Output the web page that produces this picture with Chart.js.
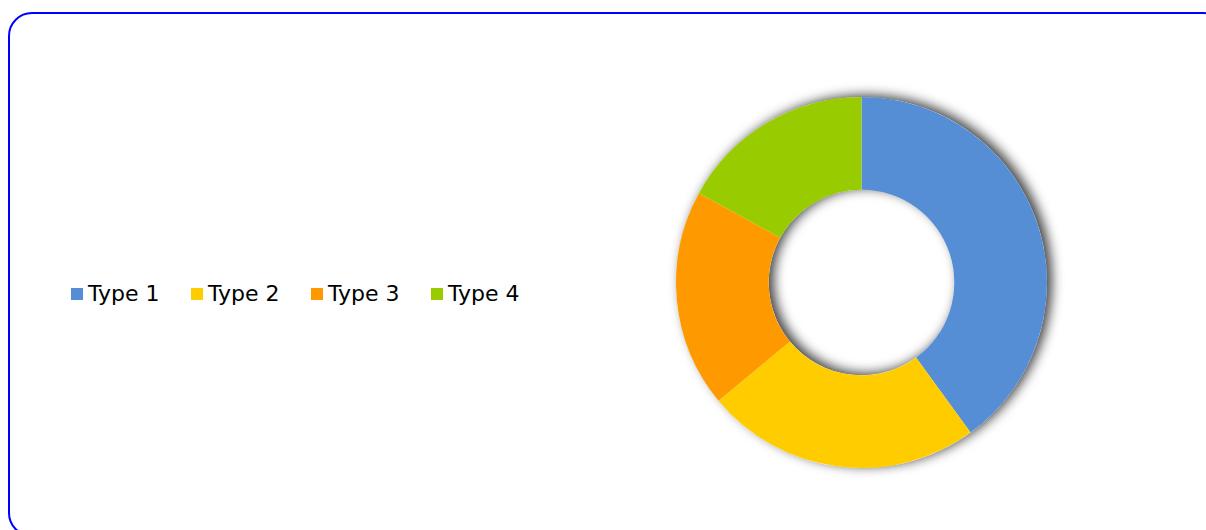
<!DOCTYPE html>
<html>
<head>
<meta charset="utf-8">
<script src="https://cdn.jsdelivr.net/npm/chart.js@4/dist/chart.umd.min.js"></script>
<style>
    html, body { margin: 0; padding: 0; background: #fff; width: 1206px; height: 530px; overflow: hidden; }
    .frame {
        position: absolute; left: 8px; top: 12px; width: 1220px; height: 525px;
        border: 2px solid #0000ff; border-radius: 24px; box-sizing: border-box;
    }
    .chart-box { position: absolute; left: 656px; top: 77px; width: 411px; height: 411px; }
    #legend {
        position: absolute; left: 71px; top: 281px; display: flex;
        font-family: "DejaVu Sans", Verdana, sans-serif; font-size: 22px; color: #000;
    }
    #legend .item { display: flex; align-items: center; width: 120px; }
    #legend .box { width: 12px; height: 12px; margin-right: 5px; }
</style>
</head>
<body>
<div class="frame"></div>
<div id="legend"></div>
<div class="chart-box"><canvas id="chart"></canvas></div>
<script>
const labels = ["Type 1", "Type 2", "Type 3", "Type 4"];
const values = [40, 24, 19, 17];
const colors = ["#558ED5", "#FFCC00", "#FF9900", "#99CC00"];

// 도넛 전체에 그림자 (조각 사이에는 그림자 없음)
const ringShadow = {
    id: "ringShadow",
    beforeDatasetDraw(chart, args) {
        const arc = chart.getDatasetMeta(args.index).data[0];
        if (!arc) return;
        const ctx = chart.ctx;
        ctx.save();
        ctx.shadowColor = "rgba(0, 0, 0, 0.75)";
        ctx.shadowBlur = 12;
        ctx.shadowOffsetX = 5;
        ctx.shadowOffsetY = -2;
        ctx.fillStyle = "#fff";
        ctx.beginPath();
        ctx.arc(arc.x, arc.y, arc.outerRadius, 0, Math.PI * 2);
        ctx.arc(arc.x, arc.y, arc.innerRadius, Math.PI * 2, 0, true);
        ctx.fill("evenodd");
        ctx.restore();
    }
};

const chart = new Chart(document.getElementById("chart"), {
    type: "doughnut",
    data: {
        labels: labels,
        datasets: [{
            data: values,
            backgroundColor: colors,
            borderWidth: 0
        }]
    },
    options: {
        responsive: true,
        maintainAspectRatio: false,
        animation: false,
        cutout: "50%",
        layout: { padding: 20 },
        plugins: {
            legend: { display: false },
            tooltip: { enabled: false }
        }
    },
    plugins: [ringShadow]
});

// 가로 범례
const legendEl = document.getElementById("legend");
for (const item of Chart.overrides.doughnut.plugins.legend.labels.generateLabels(chart)) {
    const div = document.createElement("div");
    div.className = "item";
    div.innerHTML = `<span class="box" style="background:${item.fillStyle}"></span><span>${item.text}</span>`;
    legendEl.appendChild(div);
}
</script>
</body>
</html>
